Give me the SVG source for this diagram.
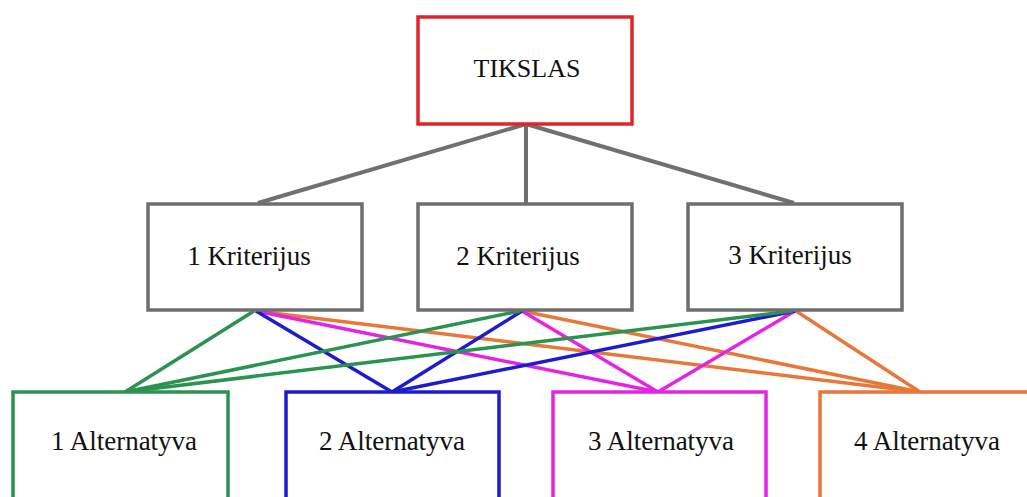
<svg xmlns="http://www.w3.org/2000/svg" width="1027" height="497" viewBox="0 0 1027 497">
<style>
rect{fill:#fff;stroke-width:3.5}
text{font-family:"Liberation Serif","Times New Roman",serif;fill:#111;text-anchor:middle}
.g{stroke:#6e6e6e}
line{stroke-width:3.5}
.c0{stroke:#707070;stroke-width:4}
.c1{stroke:#2a9350}
.c2{stroke:#1c1ccc}
.c3{stroke:#e424e4}
.c4{stroke:#e8773a}
</style>
<rect width="1027" height="497" fill="#fff" stroke="none"/>
<g id="connectors">
<line class="c0" x1="526" y1="124" x2="258" y2="203"/>
<line class="c0" x1="526" y1="124" x2="526" y2="203"/>
<line class="c0" x1="526" y1="124" x2="794" y2="203"/>
<line class="c4" x1="256" y1="311" x2="920" y2="392"/>
<line class="c4" x1="522" y1="311" x2="920" y2="392"/>
<line class="c4" x1="796" y1="311" x2="920" y2="392"/>
<line class="c3" x1="256" y1="311" x2="658" y2="392"/>
<line class="c3" x1="522" y1="311" x2="658" y2="392"/>
<line class="c3" x1="795" y1="311" x2="658" y2="392"/>
<line class="c2" x1="256" y1="311" x2="392" y2="392"/>
<line class="c2" x1="522" y1="311" x2="392" y2="392"/>
<line class="c2" x1="795" y1="311" x2="392" y2="392"/>
<line class="c1" x1="254" y1="311" x2="125" y2="392"/>
<line class="c1" x1="520" y1="311" x2="125" y2="392"/>
<line class="c1" x1="793" y1="311" x2="125" y2="392"/>
</g>
<g id="goal">
<rect x="418" y="17" width="214" height="107" stroke="#e0242a"/>
<text x="527" y="77" font-size="26">TIKSLAS</text>
</g>
<g id="crit1">
<rect class="g" x="148" y="204" width="214" height="106"/>
<text x="249" y="265" font-size="27">1 Kriterijus</text>
</g>
<g id="crit2">
<rect class="g" x="418" y="204" width="214" height="106"/>
<text x="518" y="265" font-size="27">2 Kriterijus</text>
</g>
<g id="crit3">
<rect class="g" x="688" y="204" width="214" height="106"/>
<text x="790" y="264" font-size="27">3 Kriterijus</text>
</g>
<g id="alt1">
<rect x="13" y="392" width="215" height="120" stroke="#2a9350"/>
<text x="124" y="450" font-size="27">1 Alternatyva</text>
</g>
<g id="alt2">
<rect x="286" y="392" width="213" height="120" stroke="#1c1ccc"/>
<text x="392" y="450" font-size="27">2 Alternatyva</text>
</g>
<g id="alt3">
<rect x="553" y="392" width="213" height="120" stroke="#e424e4"/>
<text x="661" y="450" font-size="27">3 Alternatyva</text>
</g>
<g id="alt4">
<rect x="820" y="392" width="220" height="120" stroke="#e8773a"/>
<text x="927" y="450" font-size="27">4 Alternatyva</text>
</g>
</svg>
